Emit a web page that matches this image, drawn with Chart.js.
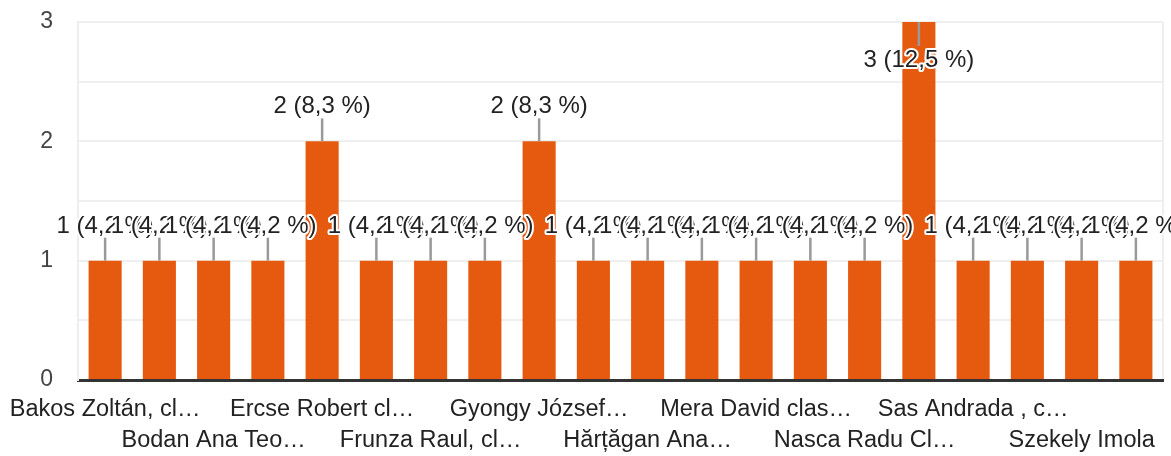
<!DOCTYPE html>
<html>
<head>
<meta charset="utf-8">
<script src="https://cdn.jsdelivr.net/npm/chart.js@4/dist/chart.umd.min.js"></script>
<style>
  html, body { margin: 0; padding: 0; background: #fff; }
  #wrap { width: 1171px; height: 456px; }
</style>
</head>
<body>
<div id="wrap"><canvas id="chart"></canvas></div>
<script>
// names as printed under the axis (truncated); only every second one is shown,
// the others can't be read from the picture
const categories = [
  'Bakos Zoltán, cl…', '', 'Bodan Ana Teo…', '', 'Ercse Robert cl…', '',
  'Frunza Raul, cl…', '', 'Gyongy József…', '', 'Hărțăgan Ana…', '',
  'Mera David clas…', '', 'Nasca Radu Cl…', '', 'Sas Andrada , c…', '',
  'Szekely Imola', ''
];
const values = [1, 1, 1, 1, 2, 1, 1, 1, 2, 1, 1, 1, 1, 1, 1, 3, 1, 1, 1, 1];
const yTickLabels = [0, 1, 2, 3];

const FONT = '"Liberation Sans", Arial, sans-serif';
const total = values.reduce((a, b) => a + b, 0);

function pctLabel(v) {
  return v + ' (' + (v / total * 100).toFixed(1).replace('.', ',') + ' %)';
}

// value labels with a short leader line, drawn in bar order so later ones cover earlier ones
const barLabels = {
  id: 'barLabels',
  afterDatasetsDraw(chart) {
    const ctx = chart.ctx;
    const area = chart.chartArea;
    const bars = chart.getDatasetMeta(0).data;
    ctx.save();
    ctx.font = '24px ' + FONT;
    ctx.textAlign = 'center';
    ctx.textBaseline = 'alphabetic';
    ctx.lineJoin = 'round';
    bars.forEach((bar, i) => {
      const text = pctLabel(values[i]);
      const inside = bar.y - 45 < area.top; // no room above -> put it inside the bar
      const lineEnd = inside ? bar.y + 24 : bar.y - 23;
      const baseY = inside ? bar.y + 45 : bar.y - 28;
      ctx.strokeStyle = '#999';
      ctx.lineWidth = 2.5;
      ctx.beginPath();
      ctx.moveTo(bar.x, bar.y);
      ctx.lineTo(bar.x, lineEnd);
      ctx.stroke();
      ctx.strokeStyle = '#fff';
      ctx.lineWidth = 4;
      ctx.strokeText(text, bar.x, baseY);
      ctx.fillStyle = '#222';
      ctx.fillText(text, bar.x, baseY);
    });
    ctx.restore();
  }
};

new Chart(document.getElementById('chart'), {
  type: 'bar',
  data: {
    labels: categories,
    datasets: [{
      data: values,
      backgroundColor: '#e65a10',
      categoryPercentage: 1,
      barPercentage: 0.61
    }]
  },
  options: {
    responsive: true,
    maintainAspectRatio: false,
    animation: false,
    layout: { padding: { top: 22, right: 8, left: 0, bottom: 0 } },
    plugins: {
      legend: { display: false },
      tooltip: { enabled: false }
    },
    scales: {
      x: {
        grid: {
          drawTicks: false,
          lineWidth: 2,
          color: c => (c.index === 0 || c.index === undefined) ? '#eeeeee' : 'rgba(0,0,0,0)'
        },
        border: { color: '#333', width: 3 },
        ticks: {
          autoSkip: false,
          maxRotation: 0,
          minRotation: 0,
          padding: 14.5,
          color: '#222',
          font: { family: FONT, size: 23.5, lineHeight: 31 / 23.5 },
          callback: (v, i) => i % 2 ? '' : (i % 4 ? ['', categories[i]] : categories[i])
        },
        afterFit: s => { s.height = 76; s.paddingLeft = 0; s.paddingRight = 0; }
      },
      y: {
        min: 0,
        max: 3,
        grid: { drawTicks: false, lineWidth: 2, color: '#efefef' },
        border: { display: true, color: '#eeeeee', width: 2 },
        ticks: {
          stepSize: 0.5,
          padding: 25,
          color: '#444',
          font: { family: FONT, size: 23 },
          callback: v => yTickLabels.includes(v) ? v : ''
        },
        afterFit: s => { s.width = 78; s.paddingTop = 0; s.paddingBottom = 0; }
      }
    }
  },
  plugins: [barLabels]
});
</script>
</body>
</html>
